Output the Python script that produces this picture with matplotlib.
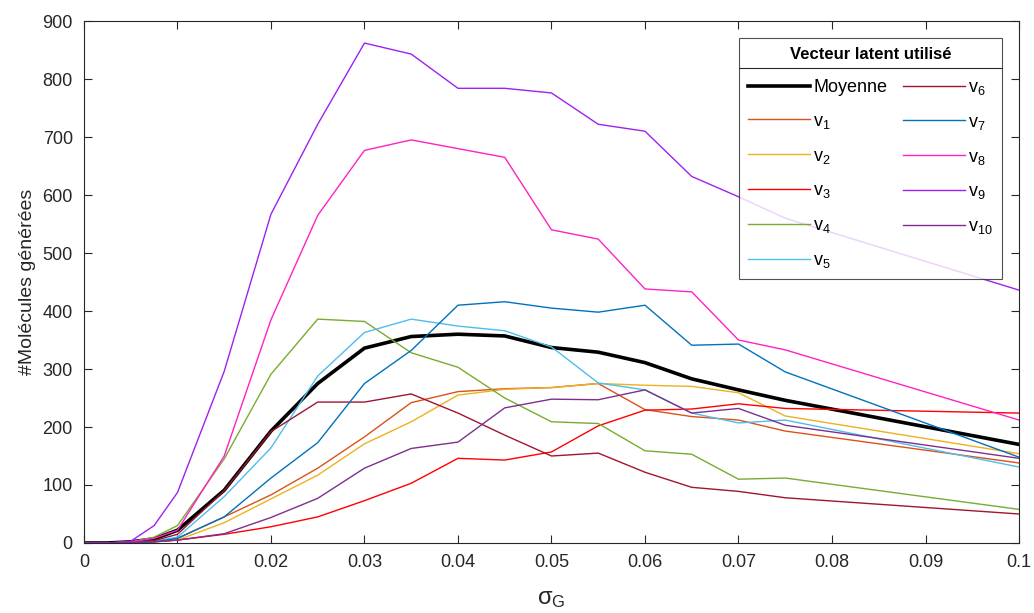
import numpy as np
import matplotlib
matplotlib.use("Agg")
import matplotlib.pyplot as plt
from matplotlib.lines import Line2D

plt.rcParams['font.family'] = ['Liberation Sans', 'DejaVu Sans']
plt.rcParams['mathtext.fontset'] = 'custom'
plt.rcParams['mathtext.rm'] = 'Liberation Sans'
plt.rcParams['mathtext.it'] = 'Liberation Sans'

#sigma_G values
sigma = [0, 0.0025, 0.005, 0.0075, 0.01, 0.015, 0.02, 0.025, 0.03, 0.035,
         0.04, 0.045, 0.05, 0.055, 0.06, 0.065, 0.07, 0.075, 0.1]

#number of generated molecules per latent vector
moyenne = [0, 0, 2, 7, 22, 91, 193, 275, 336, 356, 360, 357, 337, 329, 311, 283, 264, 246, 170]
v1 = [0, 0, 1, 3, 8, 45, 83, 129, 183, 242, 261, 266, 268, 275, 230, 218, 212, 193, 138]
v2 = [0, 0, 1, 2, 5, 35, 76, 117, 171, 209, 255, 265, 268, 275, 272, 270, 259, 219, 154]
v3 = [0, 0, 1, 2, 5, 15, 28, 45, 73, 103, 146, 143, 157, 202, 229, 231, 240, 232, 224]
v4 = [0, 0, 2, 10, 30, 145, 291, 386, 382, 328, 303, 250, 209, 206, 159, 153, 110, 112, 58]
v5 = [0, 0, 1, 3, 10, 80, 164, 288, 363, 386, 374, 366, 338, 276, 264, 224, 207, 212, 131]
v6 = [0, 0, 1, 4, 15, 90, 192, 243, 243, 257, 224, 186, 150, 155, 122, 96, 89, 78, 50]
v7 = [0, 0, 1, 2, 8, 45, 112, 173, 275, 332, 410, 416, 405, 398, 410, 341, 343, 295, 148]
v8 = [0, 0, 2, 8, 22, 150, 385, 565, 677, 695, 680, 665, 540, 524, 438, 433, 350, 333, 212]
v9 = [0, 0, 3, 30, 87, 296, 567, 722, 862, 843, 784, 784, 776, 722, 710, 632, 597, 560, 436]
v10 = [0, 0, 1, 2, 5, 16, 44, 77, 129, 163, 174, 233, 248, 247, 264, 224, 232, 203, 146]

series = [v1, v2, v3, v4, v5, v6, v7, v8, v9, v10]
colors = ['#D95319', '#EDB120', '#FF0000', '#77AC30', '#4DBEEE',
          '#A2142F', '#0072BD', '#FF22C4', '#A020F0', '#7E2F8E']
labels = ['Moyenne'] + ['v$_{%d}$' % i for i in range(1, 11)]

fig = plt.figure(figsize=(10.34, 6.13), dpi=100)
ax = fig.add_axes([0.0812, 0.1142, 0.9043, 0.8515])

hMean, = ax.plot(sigma, moyenne, color='black', lw=2.6, zorder=1)
handles = [hMean]
for vals, c in zip(series, colors):
    h, = ax.plot(sigma, vals, color=c, lw=1.0, zorder=2)
    handles.append(h)

ax.set_xlim(0, 0.1)
ax.set_ylim(0, 900)
ax.set_xticks(np.arange(0, 0.1001, 0.01))
ax.set_xticklabels(['0', '0.01', '0.02', '0.03', '0.04', '0.05', '0.06', '0.07', '0.08', '0.09', '0.1'])
ax.set_yticks(np.arange(0, 901, 100))

ax.tick_params(direction='in', length=6, width=0.8, top=True, right=True,
               labelsize=13, colors='#262626', pad=8)
for s in ax.spines.values():
    s.set_color('#262626')
    s.set_linewidth(0.8)

ax.set_xlabel(r'$\sigma_G$', fontsize=17, color='#262626', labelpad=12)
ax.set_ylabel('#Molécules générées', fontsize=14, color='#262626', labelpad=5)

leg = ax.legend(handles, labels, ncol=2, loc='upper right',
                bbox_to_anchor=(0.982, 0.967), borderaxespad=0, fontsize=13,
                title='Vecteur latent utilisé',
                title_fontproperties={'weight': 'bold', 'size': 12},
                frameon=True, fancybox=False, edgecolor='#262626',
                handlelength=3.4, handletextpad=0.2, columnspacing=0.9,
                labelspacing=0.93, borderpad=0.5)
leg.get_frame().set_linewidth(0.8)
leg._legend_box.sep = 12

#separator line below the legend title
fig.canvas.draw()
rend = fig.canvas.get_renderer()
lb = leg.get_window_extent(rend)
tb = leg.get_title().get_window_extent(rend)
ysep = tb.y0 - 6
inv = fig.transFigure.inverted()
x0, y0 = inv.transform((lb.x0, ysep))
x1, _ = inv.transform((lb.x1, ysep))
fig.add_artist(Line2D([x0, x1], [y0, y0], color='#262626', lw=0.8))

fig.savefig('out.png', dpi=100)
